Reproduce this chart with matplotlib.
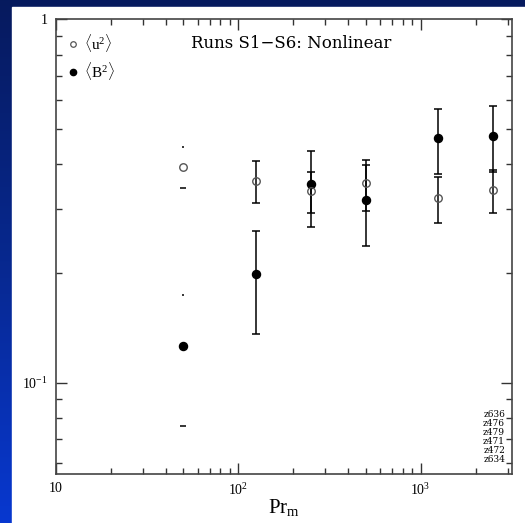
import numpy as np
import matplotlib.pyplot as plt
from matplotlib.lines import Line2D
from matplotlib.patches import Rectangle
from matplotlib.colors import LinearSegmentedColormap
from matplotlib.ticker import FixedLocator, FixedFormatter, LogLocator, NullFormatter

plt.rcParams['font.family'] = ['Liberation Serif', 'DejaVu Serif']
plt.rcParams['mathtext.fontset'] = 'custom'
plt.rcParams['mathtext.rm'] = 'Liberation Serif'
plt.rcParams['mathtext.it'] = 'Liberation Serif:italic'

# magnetic Prandtl number of each run
prm = np.array([50, 125, 250, 500, 1250, 2500])
# kinetic energy <u^2> with error range
u2 = np.array([0.393, 0.360, 0.338, 0.355, 0.323, 0.339])
u2_hi = np.array([0.444, 0.408, 0.381, 0.410, 0.369, 0.386])
u2_lo = np.array([0.344, 0.312, 0.293, 0.297, 0.276, 0.293])
# magnetic energy <B^2> with error range
b2 = np.array([0.126, 0.199, 0.352, 0.318, 0.472, 0.478])
b2_hi = np.array([0.174, 0.262, 0.434, 0.397, 0.567, 0.578])
b2_lo = np.array([0.076, 0.136, 0.269, 0.238, 0.375, 0.381])
runs = ['z636', 'z476', 'z479', 'z471', 'z472', 'z634']

fig = plt.figure(figsize=(5.25, 5.23), dpi=100)

# blue slide background with white panel
bg = fig.add_axes([0, 0, 1, 1], zorder=-10)
cmap = LinearSegmentedColormap.from_list('slide', ['#0838d0', '#07288f', '#061a5e'])
grad = np.linspace(0, 1, 256).reshape(-1, 1)
bg.imshow(grad, aspect='auto', cmap=cmap, extent=[0, 1, 0, 1], origin='lower')
bg.add_patch(Rectangle((12 / 525, 0), 1, 1 - 7 / 523, color='white'))
bg.set_xlim(0, 1)
bg.set_ylim(0, 1)
bg.axis('off')

ax = fig.add_axes([0.106, 0.0937, 0.869, 0.8693])
ax.set_facecolor('none')
ax.set_xscale('log')
ax.set_yscale('log')
ax.set_xlim(10, 10 ** 3.5)
ax.set_ylim(0.0561, 1)

# error bars (first run shows only the caps)
k = slice(1, None)
ax.errorbar(prm[k], u2[k], yerr=[u2[k] - u2_lo[k], u2_hi[k] - u2[k]],
            fmt='none', ecolor='black', elinewidth=1.1, capsize=2.6, capthick=1.1)
ax.errorbar(prm[k], b2[k], yerr=[b2[k] - b2_lo[k], b2_hi[k] - b2[k]],
            fmt='none', ecolor='black', elinewidth=1.1, capsize=2.6, capthick=1.1)
ax.plot(prm[:1], u2_hi[:1], ls='none', marker='_', ms=1.5, mew=1.1, color='black')
ax.plot(prm[:1], u2_lo[:1], ls='none', marker='_', ms=5, mew=1.1, color='black')
ax.plot(prm[:1], b2_hi[:1], ls='none', marker='_', ms=1.5, mew=1.1, color='black')
ax.plot(prm[:1], b2_lo[:1], ls='none', marker='_', ms=5, mew=1.1, color='black')

ax.plot(prm, b2, ls='none', marker='o', ms=5.8, mfc='black', mec='black')
ax.plot(prm, u2, ls='none', marker='o', ms=5.4, mfc='none', mec='#555555', mew=1.0)

# axes styling
for s in ax.spines.values():
    s.set_color('#444444')
    s.set_linewidth(1.2)
ax.tick_params(which='both', direction='in', top=True, right=True, color='#333333', width=1)
ax.tick_params(which='major', length=8, labelsize=10, pad=6)
ax.tick_params(which='minor', length=4)
ax.xaxis.set_major_locator(FixedLocator([10, 100, 1000]))
ax.xaxis.set_major_formatter(FixedFormatter(['10', '$10^2$', '$10^3$']))
ax.xaxis.set_minor_locator(LogLocator(base=10, subs=np.arange(2, 10)))
ax.xaxis.set_minor_formatter(NullFormatter())
ax.yaxis.set_major_locator(FixedLocator([0.1, 1]))
ax.yaxis.set_major_formatter(FixedFormatter(['$10^{-1}$', '1']))
ax.yaxis.set_minor_locator(LogLocator(base=10, subs=np.arange(2, 10)))
ax.yaxis.set_minor_formatter(NullFormatter())

ax.set_xlabel(r'Pr$_\mathrm{m}$', fontsize=15, labelpad=-1)

handles = [Line2D([], [], ls='none', marker='o', ms=4, mfc='none', mec='#555555', mew=0.9),
           Line2D([], [], ls='none', marker='o', ms=4.5, mfc='black', mec='black')]
ax.legend(handles, [r'$\langle\mathrm{u}^2\rangle$', r'$\langle\mathrm{B}^2\rangle$'],
          loc='upper left', bbox_to_anchor=(0.028, 0.972), frameon=False, fontsize=11,
          handlelength=0.6, handletextpad=0.4, labelspacing=0.42,
          borderaxespad=0, borderpad=0)

ax.text(0.516, 0.946, 'Runs S1\u2212S6: Nonlinear', transform=ax.transAxes,
        ha='center', va='center', fontsize=12, family='DejaVu Serif')
ax.text(0.985, 0.141, '\n'.join(runs), transform=ax.transAxes, ha='right', va='top',
        fontsize=6.5, linespacing=1.0, family='DejaVu Serif')

fig.savefig('out.png', dpi=100)
